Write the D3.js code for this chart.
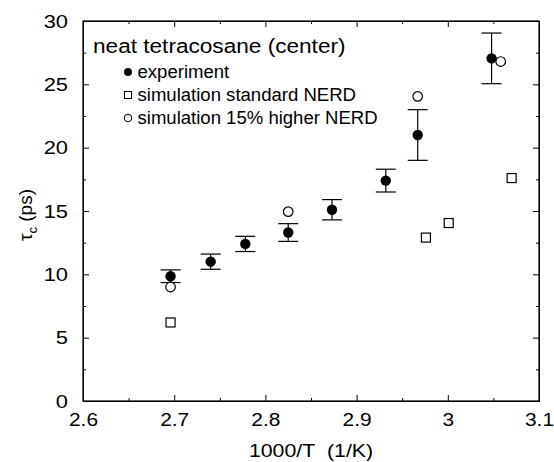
<!DOCTYPE html>
<meta charset="utf-8">
<style>
    body { margin: 0; background: #fff; }
    svg text { font-family: "Liberation Sans", Arial, sans-serif; fill: #000; }
    .axis path, .axis line { stroke: #000; stroke-width: 1px; }
    .frame { fill: none; stroke: #000; stroke-width: 1.2px; }
    .errbar { stroke: #000; stroke-width: 1.2px; }
</style>
<svg id="svg" width="554" height="462"></svg>

<script src="https://d3js.org/d3.v7.min.js"></script>
<script>

// experiment (filled circles, with error bars)
var expX   = [2.696, 2.740, 2.778, 2.825, 2.873, 2.932, 2.967, 3.048];
var expY   = [9.85, 11.0, 12.4, 13.3, 15.1, 17.4, 21.0, 27.05];
var expErr = [0.5, 0.6, 0.6, 0.7, 0.8, 0.9, 2.0, 2.0];

// simulation standard NERD (open squares)
var stdX = [2.696, 2.976, 3.001, 3.070];
var stdY = [6.2, 12.9, 14.05, 17.6];

// simulation 15% higher NERD (open circles)
var hiX = [2.696, 2.825, 2.967, 3.058];
var hiY = [9.0, 14.95, 24.05, 26.8];

var xTicks = [2.6, 2.7, 2.8, 2.9, 3.0, 3.1];
var yTicks = [0, 5, 10, 15, 20, 25, 30];
var xMinor = [2.65, 2.75, 2.85, 2.95, 3.05];
var yMinor = [2.5, 7.5, 12.5, 17.5, 22.5, 27.5];

var legendTitle = "neat tetracosane (center)";
var legendLabels = ["experiment", "simulation standard NERD", "simulation 15% higher NERD"];

var svg = d3.select("#svg");
var pLeft = 83, pTop = 21, pRight = 539, pBottom = 401;

var x = d3.scaleLinear().domain([2.6, 3.1]).range([pLeft, pRight]);
var y = d3.scaleLinear().domain([0, 30]).range([pBottom, pTop]);

// stretch text a bit horizontally, like the scanned figure
function widen(sel, k) {
  sel.each(function() {
    var w = this.getComputedTextLength();
    d3.select(this).attr("textLength", w * k).attr("lengthAdjust", "spacingAndGlyphs");
  });
}

// axes (ticks point inward)
var gx = svg.append("g").attr("class", "axis")
    .attr("transform", "translate(0," + pBottom + ")")
    .call(d3.axisBottom(x).tickValues(xTicks).tickFormat(d3.format("")).tickSizeInner(-6).tickSizeOuter(0).tickPadding(12));
gx.selectAll("text").style("font-size", "19px");

var gy = svg.append("g").attr("class", "axis")
    .attr("transform", "translate(" + pLeft + ",0)")
    .call(d3.axisLeft(y).tickValues(yTicks).tickSizeInner(-6).tickSizeOuter(0).tickPadding(15));
gy.selectAll("text").style("font-size", "19px");

svg.append("g").attr("class", "axis")
    .attr("transform", "translate(0," + pTop + ")")
    .call(d3.axisTop(x).tickValues(xTicks).tickSizeInner(-6).tickSizeOuter(0).tickFormat(""));
svg.append("g").attr("class", "axis")
    .attr("transform", "translate(" + pRight + ",0)")
    .call(d3.axisRight(y).tickValues(yTicks).tickSizeInner(-6).tickSizeOuter(0).tickFormat(""));

// minor ticks on all sides
svg.append("g").attr("class", "axis").attr("transform", "translate(0," + pBottom + ")")
    .call(d3.axisBottom(x).tickValues(xMinor).tickSizeInner(-3).tickSizeOuter(0).tickFormat(""));
svg.append("g").attr("class", "axis").attr("transform", "translate(0," + pTop + ")")
    .call(d3.axisTop(x).tickValues(xMinor).tickSizeInner(-3).tickSizeOuter(0).tickFormat(""));
svg.append("g").attr("class", "axis").attr("transform", "translate(" + pLeft + ",0)")
    .call(d3.axisLeft(y).tickValues(yMinor).tickSizeInner(-3).tickSizeOuter(0).tickFormat(""));
svg.append("g").attr("class", "axis").attr("transform", "translate(" + pRight + ",0)")
    .call(d3.axisRight(y).tickValues(yMinor).tickSizeInner(-3).tickSizeOuter(0).tickFormat(""));

svg.append("rect").attr("class", "frame")
    .attr("x", pLeft).attr("y", pTop)
    .attr("width", pRight - pLeft).attr("height", pBottom - pTop);

widen(gx.selectAll("text"), 1.1);
widen(gy.selectAll("text"), 1.15);

// axis titles
var xl = svg.append("text")
    .attr("x", (pLeft + pRight) / 2).attr("y", 457)
    .attr("text-anchor", "middle")
    .style("font-size", "19px")
    .text("1000/T\u00a0\u00a0(1/K)");
widen(xl, 1.12);

var yl = svg.append("text")
    .attr("transform", "translate(32,215) rotate(-90)")
    .attr("text-anchor", "middle")
    .style("font-size", "19px");
yl.append("tspan").text("\u03c4");
yl.append("tspan").attr("dy", 5).style("font-size", "13px").text("c");
yl.append("tspan").attr("dy", -5).text(" (ps)");

// error bars
var eb = svg.append("g");
expX.forEach(function(d, i) {
  var cx = x(d), y0 = y(expY[i] - expErr[i]), y1 = y(expY[i] + expErr[i]);
  eb.append("line").attr("class", "errbar").attr("x1", cx).attr("x2", cx).attr("y1", y0).attr("y2", y1);
  eb.append("line").attr("class", "errbar").attr("x1", cx - 10).attr("x2", cx + 10).attr("y1", y0).attr("y2", y0);
  eb.append("line").attr("class", "errbar").attr("x1", cx - 10).attr("x2", cx + 10).attr("y1", y1).attr("y2", y1);
});

// standard NERD squares
svg.append("g").selectAll("rect")
    .data(stdX)
    .enter().append("rect")
    .attr("x", function(d) { return x(d) - 4.5; })
    .attr("y", function(d, i) { return y(stdY[i]) - 4.5; })
    .attr("width", 9).attr("height", 9)
    .attr("fill", "#fff").attr("stroke", "#000").attr("stroke-width", 1.2);

// 15% higher NERD open circles
svg.append("g").selectAll("circle")
    .data(hiX)
    .enter().append("circle")
    .attr("cx", function(d) { return x(d); })
    .attr("cy", function(d, i) { return y(hiY[i]); })
    .attr("r", 4.8)
    .attr("fill", "#fff").attr("stroke", "#000").attr("stroke-width", 1.2);

// experiment filled circles
svg.append("g").selectAll("circle")
    .data(expX)
    .enter().append("circle")
    .attr("cx", function(d) { return x(d); })
    .attr("cy", function(d, i) { return y(expY[i]); })
    .attr("r", 5.2)
    .attr("fill", "#000");

// legend
var lt = svg.append("text")
    .attr("x", 93).attr("y", 53)
    .style("font-size", "20px")
    .text(legendTitle);
widen(lt, 1.13);

var rowY = [72, 95, 118];
var lg = svg.append("g");
lg.append("circle").attr("cx", 128).attr("cy", rowY[0]).attr("r", 4).attr("fill", "#000");
lg.append("rect").attr("x", 124.5).attr("y", rowY[1] - 3.5).attr("width", 7).attr("height", 7)
    .attr("fill", "#fff").attr("stroke", "#000").attr("stroke-width", 1);
lg.append("circle").attr("cx", 128).attr("cy", rowY[2]).attr("r", 3.8)
    .attr("fill", "#fff").attr("stroke", "#000").attr("stroke-width", 1);

lg.selectAll("text.lab")
    .data(legendLabels)
    .enter().append("text")
    .attr("class", "lab")
    .attr("x", 137.5)
    .attr("y", function(d, i) { return rowY[i] + 6; })
    .style("font-size", "18px")
    .text(function(d) { return d; });
widen(lg.selectAll("text.lab"), 1.03);

</script>
